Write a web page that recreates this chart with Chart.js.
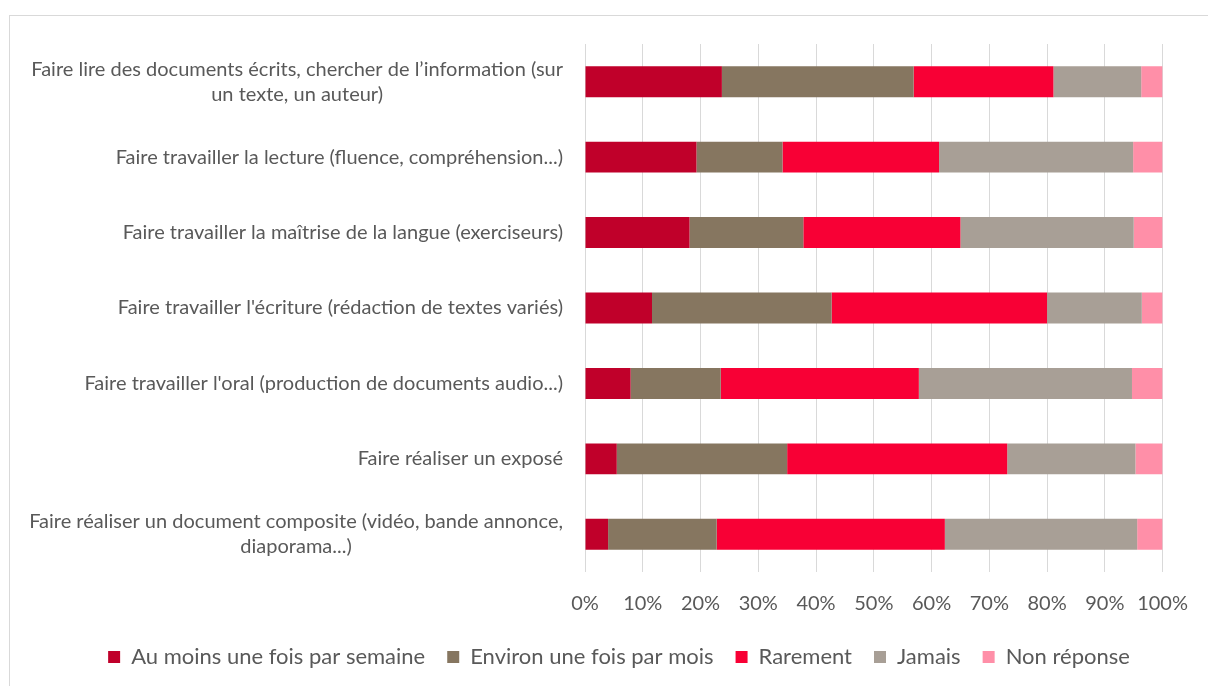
<!DOCTYPE html>
<html>
<head>
<meta charset="utf-8">
<script src="https://cdn.jsdelivr.net/npm/chart.js@4"></script>
<style>
    body { margin: 0; background: #fff; }
    #frame {
        position: absolute; left: 9px; top: 15px; width: 1400px; height: 900px;
        border-top: 1px solid #d9d9d9; border-left: 1px solid #d9d9d9;
    }
    #chart { position: absolute; left: 0; top: 0; }
</style>
</head>
<body>
<div id="frame"></div>
<canvas id="chart" width="1208" height="686"></canvas>
<script>
const categories = [
    ["Faire lire des documents écrits, chercher de l’information (sur", "un texte, un auteur)"],
    ["Faire travailler la lecture (fluence, compréhension...)"],
    ["Faire travailler la maîtrise de la langue (exerciseurs)"],
    ["Faire travailler l'écriture (rédaction de textes variés)"],
    ["Faire travailler l'oral (production de documents audio...)"],
    ["Faire réaliser un exposé"],
    ["Faire réaliser un document composite (vidéo, bande annonce,", "diaporama...)"]
];
const seriesNames = ["Au moins une fois par semaine", "Environ une fois par mois", "Rarement", "Jamais", "Non réponse"];
const auMoins = [23.7, 19.3, 18.1, 11.6, 7.9, 5.5, 4.0];
const environ = [33.2, 14.9, 19.7, 31.1, 15.6, 29.5, 18.8];
const rarement = [24.2, 27.1, 27.2, 37.3, 34.3, 38.1, 39.5];
const jamais = [15.2, 33.6, 30.0, 16.4, 36.9, 22.2, 33.3];
const nonReponse = [3.7, 5.1, 5.0, 3.6, 5.3, 4.7, 4.4];
const xTicks = [0, 10, 20, 30, 40, 50, 60, 70, 80, 90, 100];

const colors = ["#C0002A", "#867660", "#F80035", "#A89F96", "#FF8FA8"];
const FONT = "Lato";
const TEXT = "#595959";

// y labels: block right-aligned against the axis, lines centered inside the block
const categoryLabels = {
    id: "categoryLabels",
    afterDraw(chart) {
        const ctx = chart.ctx;
        const yScale = chart.scales.y;
        const right = chart.chartArea.left - 22;
        ctx.save();
        ctx.font = "20px " + FONT;
        ctx.fillStyle = TEXT;
        ctx.textAlign = "center";
        ctx.textBaseline = "middle";
        chart.data.labels.forEach((lines, i) => {
            const widest = Math.max(...lines.map(l => ctx.measureText(l).width));
            const cx = right - widest / 2;
            const cy = yScale.getPixelForValue(i);
            const lh = 25;
            lines.forEach((line, j) => {
                ctx.fillText(line, cx, cy + (j - (lines.length - 1) / 2) * lh);
            });
        });
        ctx.restore();
    }
};

const seriesData = [auMoins, environ, rarement, jamais, nonReponse];

new Chart(document.getElementById("chart"), {
    type: "bar",
    data: {
        labels: categories,
        datasets: seriesNames.map((name, i) => ({
            label: name,
            data: seriesData[i],
            backgroundColor: colors[i],
            borderWidth: 0,
            barPercentage: 0.41,
            categoryPercentage: 1
        }))
    },
    options: {
        indexAxis: "y",
        responsive: false,
        animation: false,
        devicePixelRatio: 1,
        // left padding only moves the legend; y axis width keeps the plot at x=585
        layout: { padding: { left: 74, right: 44, top: 44, bottom: 8 } },
        scales: {
            x: {
                stacked: true,
                min: 0,
                max: 100,
                afterBuildTicks(scale) {
                    scale.ticks = xTicks.map(v => ({ value: v }));
                },
                afterFit(scale) { scale.height = 52; },
                grid: { color: "#d9d9d9", lineWidth: 1, drawTicks: false },
                border: { display: false },
                ticks: {
                    padding: 20,
                    color: TEXT,
                    font: { family: FONT, size: 20 },
                    maxRotation: 0,
                    callback: (v) => v + "%"
                }
            },
            y: {
                stacked: true,
                afterFit(scale) { scale.width = 511; },
                grid: { display: false },
                border: { display: false },
                ticks: { display: false }
            }
        },
        plugins: {
            legend: {
                position: "bottom",
                labels: {
                    boxWidth: 12,
                    boxHeight: 12,
                    padding: 22,
                    color: TEXT,
                    font: { family: FONT, size: 22 }
                }
            },
            tooltip: { enabled: false }
        }
    },
    plugins: [categoryLabels]
});
</script>
</body>
</html>
